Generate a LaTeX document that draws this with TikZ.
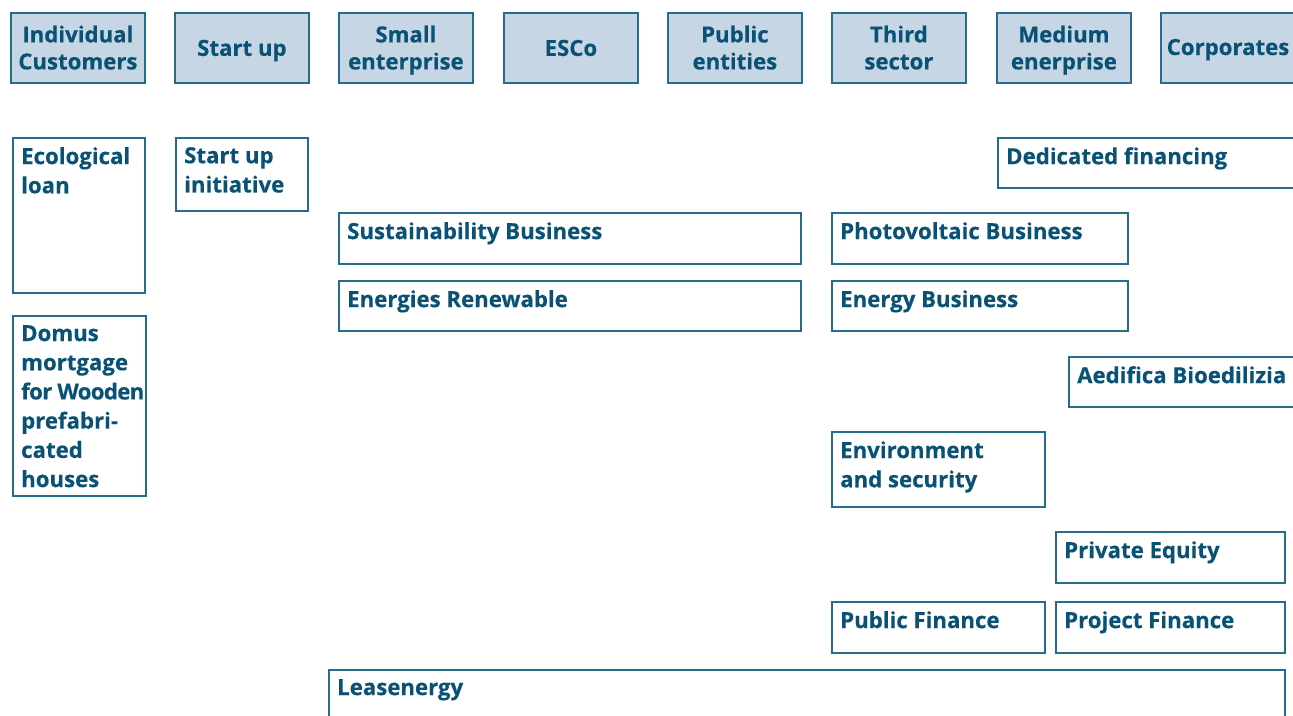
\documentclass[tikz,border=0pt]{standalone}
\usepackage{fontspec}
\setmainfont{Open Sans}[BoldFeatures={FakeBold=0.35}]
\definecolor{txt}{HTML}{0A5275}
\definecolor{brd}{HTML}{266C8C}
\definecolor{hdr}{HTML}{C6D6E4}
\tikzset{
  box/.style={draw=brd, line width=1.8pt, rectangle, inner sep=0pt, anchor=north west},
  hbox/.style={box, fill=hdr},
  htxt/.style={text=txt, font=\bfseries\fontsize{22.2}{27}\selectfont, align=center, inner sep=0pt},
  lbl/.style={text=txt, font=\bfseries\fontsize{22.2}{29.2}\selectfont, align=left, anchor=north west, inner xsep=9pt, inner ysep=10pt},
}
\newcommand{\hb}[4]{%
  \node[hbox, minimum width=#3pt, minimum height=70pt] (#1) at (#2,12) {};
  \node[htxt] at ([yshift=-2.6pt]#1.center) {\strut#4\strut};}
\newcommand{\bx}[6]{%
  \node[box, minimum width=#4pt-#2pt-1pt, minimum height=#5pt-#3pt-1pt] (#1) at (#2,#3) {};
  \node[lbl] at (#1.north west) {#6};}
\begin{document}
\begin{tikzpicture}[x=1pt,y=-1pt]
\useasboundingbox (0,0) rectangle (1293,715);
\clip (0,0) rectangle (1293,715);
\hb{h1}{10}{134}{Individual\\Customers}
\hb{h2}{174}{134}{Start up}
\hb{h3}{338}{134}{Small\\enterprise}
\hb{h4}{503}{134}{ESCo}
\hb{h5}{667}{134}{Public\\entities}
\hb{h6}{831}{134}{Third\\sector}
\hb{h7}{996}{134}{Medium\\enerprise}
\node[hbox, minimum width=140pt, minimum height=70pt] (h8) at (1160,12) {};
\node[htxt] at (1228,49.6) {\strut Corporates\strut};
\bx{eco}{12}{137}{145}{293}{Ecological\\loan}
\bx{sui}{175}{137}{308}{211}{Start up\\initiative}
\bx{ded}{997}{137}{1310}{188}{Dedicated financing}
\bx{sus}{338}{212}{801}{264}{Sustainability Business}
\bx{pvb}{831}{212}{1128}{264}{Photovoltaic Business}
\bx{ren}{338}{280}{801}{331}{Energies Renewable}
\bx{enb}{831}{280}{1128}{331}{Energy Business}
\bx{aed}{1068}{356}{1310}{407}{Aedifica Bioedilizia}
\bx{dom}{12}{315}{146}{496}{Domus\\mortgage\\{\addfontfeature{LetterSpace=-3}for Wooden}\\prefabri-\\cated\\houses}
\bx{env}{831}{431}{1045}{507}{Environment\\and security}
\bx{pe}{1055}{531}{1285}{583}{Private Equity}
\bx{pf}{831}{601}{1045}{653}{Public Finance}
\bx{prf}{1055}{601}{1285}{653}{Project Finance}
\bx{lea}{328}{669}{1285}{730}{Leasenergy}
\end{tikzpicture}
\end{document}
